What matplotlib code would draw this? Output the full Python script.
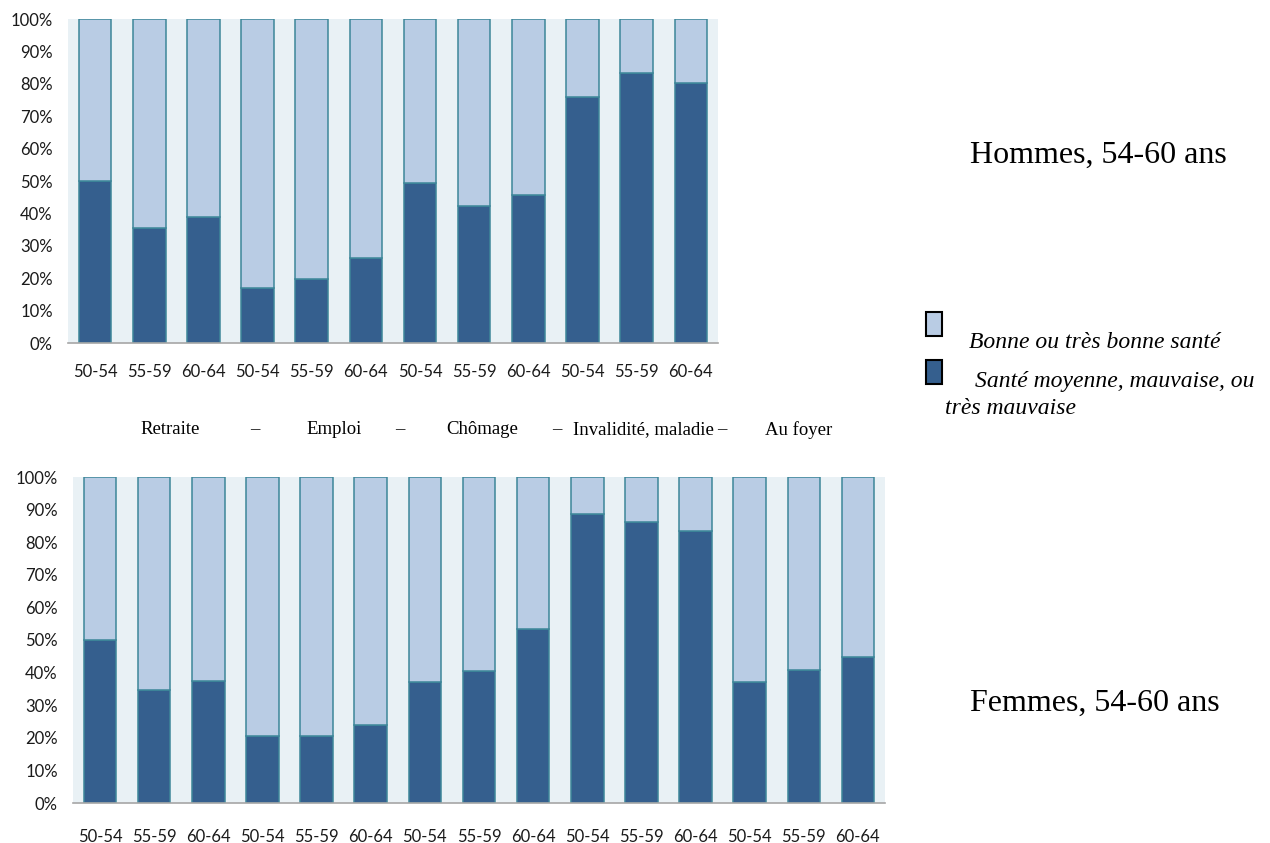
import matplotlib
matplotlib.use('Agg')
import matplotlib.pyplot as plt
import numpy as np

# Age groups and categories
ages = ['50-54', '55-59', '60-64']
statuts = ['Retraite', 'Emploi', 'Chômage', 'Invalidité, maladie', 'Au foyer']

# Share (%) in "Santé moyenne, mauvaise, ou très mauvaise"
hommes_mauvaise = [50, 35.4, 38.9, 16.9, 19.8, 26.2, 49.3, 42.3, 45.8, 75.8, 83.4, 80.2]
femmes_mauvaise = [50, 34.6, 37.4, 20.5, 20.5, 23.8, 37.1, 40.6, 53.3, 88.5, 86.2, 83.3,
                   37.1, 40.8, 44.8]

dark = '#355F8E'
light = '#B9CCE4'
edge = '#3D8699'
bg = '#E9F1F5'

plt.rcParams['font.family'] = ['Lato', 'DejaVu Sans']

fig = plt.figure(figsize=(12.7, 8.43), dpi=100)


def draw_panel(rect, values, xpad):
    ax = fig.add_axes(rect)
    vals = np.array(values)
    x = np.arange(len(vals))
    ax.bar(x, vals, width=0.6, color=dark, edgecolor=edge, linewidth=1.1)
    ax.bar(x, 100 - vals, bottom=vals, width=0.6, color=light, edgecolor=edge, linewidth=1.1)
    ax.set_facecolor(bg)
    ax.set_xlim(-0.5, len(vals) - 0.5)
    ax.set_ylim(0, 100)
    ax.set_yticks(np.arange(0, 101, 10))
    ax.set_yticklabels([f'{v}%' for v in range(0, 101, 10)])
    ax.set_xticks(x)
    ax.set_xticklabels([ages[i % 3] for i in x])
    for s in ['top', 'right', 'left']:
        ax.spines[s].set_visible(False)
    ax.spines['bottom'].set_color('#A6A6A6')
    ax.spines['bottom'].set_linewidth(1.2)
    ax.tick_params(axis='both', length=0, labelsize=12, colors='#1a1a1a')
    ax.tick_params(axis='x', pad=xpad)
    ax.tick_params(axis='y', pad=11)
    return ax


draw_panel([68 / 1270, 1 - 343 / 843, 650 / 1270, 324 / 843], hommes_mauvaise, 15)
draw_panel([73 / 1270, 1 - 803 / 843, 812 / 1270, 326 / 843], femmes_mauvaise, 19)

# category line between the two panels
serif = ['Liberation Serif', 'DejaVu Serif']
cat_x = [170, 334, 482, 643, 799]
dash_x = [255, 400, 557, 722]
for name, cx in zip(statuts, cat_x):
    fig.text(cx / 1270, 1 - 430 / 843, name, family=serif, fontsize=13.5,
             ha='center', va='center')
for dx in dash_x:
    fig.text(dx / 1270, 1 - 430 / 843, '–', family=serif, fontsize=13.5,
             ha='center', va='center')

# panel titles
fig.text(970 / 1270, 1 - 155 / 843, 'Hommes, 54-60 ans', family=serif, fontsize=23,
         ha='left', va='center')
fig.text(970 / 1270, 1 - 703 / 843, 'Femmes, 54-60 ans', family=serif, fontsize=23,
         ha='left', va='center')

# legend
for y0, col in [(312, light), (360, dark)]:
    fig.patches.append(plt.Rectangle((926 / 1270, 1 - (y0 + 24) / 843), 16 / 1270, 24 / 843,
                                     transform=fig.transFigure, facecolor=col,
                                     edgecolor='black', linewidth=1.5))
fig.text(969 / 1270, 1 - 342 / 843, 'Bonne ou très bonne santé', family=serif,
         style='italic', fontsize=17, ha='left', va='center')
fig.text(975 / 1270, 1 - 381 / 843, 'Santé moyenne, mauvaise, ou', family=serif,
         style='italic', fontsize=17, ha='left', va='center')
fig.text(945 / 1270, 1 - 408 / 843, 'très mauvaise', family=serif,
         style='italic', fontsize=17, ha='left', va='center')

fig.savefig('out.png', dpi=100)
